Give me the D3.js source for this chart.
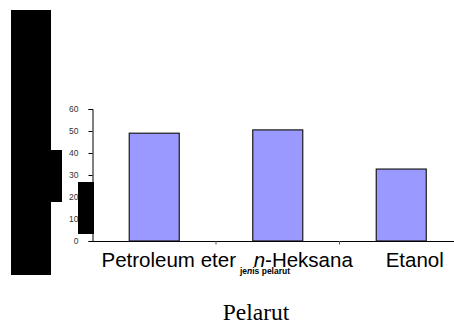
<!DOCTYPE html>
<html>
<head>
<meta charset="utf-8">
<script src="https://cdn.jsdelivr.net/npm/d3@7"></script>
<style>
  html, body { margin: 0; padding: 0; background: #fff; }
  svg { display: block; }
</style>
</head>
<body>
<script>
// Solvent yield chart
const categories = ["Petroleum eter", "n-Heksana", "Etanol"];
const values = [49, 50.5, 32.7];
const yTicks = [0, 10, 20, 30, 40, 50, 60];
const yTickLabels = ["0", "10", "20", "30", "40", "50", "60"];
const axisTitleX = "Pelarut";
const innerTitle = "jenis pelarut";
// horizontal nudges for category labels
const labelNudge = [15, 26, 14];

const W = 454, H = 325;
const svg = d3.select("body").append("svg").attr("width", W).attr("height", H);

const x = d3.scaleBand().domain(categories).range([92, 462.5]).padding(0);
const y = d3.scaleLinear().domain([0, 60]).range([241, 109]);
const barFrac = 0.405;

// bars
const bw = x.bandwidth() * barFrac;
svg.append("g").selectAll("rect").data(values).join("rect")
  .attr("x", (d, i) => x(categories[i]) + (x.bandwidth() - bw) / 2 + 0.5)
  .attr("y", d => y(d))
  .attr("width", bw)
  .attr("height", d => y(0) - y(d))
  .attr("fill", "#9999ff")
  .attr("stroke", "#1a1a1a")
  .attr("stroke-width", 1.2);

// y axis
const yAxis = d3.axisLeft(y).tickValues(yTicks).tickSize(4).tickPadding(10)
  .tickFormat((d, i) => yTickLabels[i]);
const gy = svg.append("g").attr("transform", "translate(92.5,0)").call(yAxis);
gy.select(".domain").attr("stroke", "#000");
gy.selectAll(".tick line").attr("stroke", "#000");
gy.selectAll(".tick text").attr("fill", "#333")
  .style("font-family", "Liberation Sans, Arial, sans-serif").style("font-size", "8.5px");

// x axis: baseline with tick marks between categories
svg.append("line").attr("x1", 92).attr("x2", W).attr("y1", y(0) + 0.5).attr("y2", y(0) + 0.5)
  .attr("stroke", "#000");
svg.append("g").selectAll("line").data(categories.slice(1)).join("line")
  .attr("x1", d => x(d) + 0.5).attr("x2", d => x(d) + 0.5)
  .attr("y1", y(0)).attr("y2", y(0) + 3.5)
  .attr("stroke", "#555");

// category labels
svg.append("g").selectAll("text").data(categories).join("text")
  .attr("x", (d, i) => x(d) + x.bandwidth() / 2 + labelNudge[i])
  .attr("y", 267)
  .attr("text-anchor", "middle")
  .style("font-family", "Liberation Sans, Arial, sans-serif")
  .style("font-size", "20.5px")
  .attr("fill", "#000")
  .each(function (d) {
    const t = d3.select(this);
    if (d.startsWith("n-")) {
      t.append("tspan").style("font-style", "italic").text("n");
      t.append("tspan").text(d.slice(1));
    } else {
      t.text(d);
    }
  });

// inner axis title
const it = svg.append("text").attr("x", 265).attr("y", 274).attr("text-anchor", "middle")
  .style("font-family", "Liberation Sans, Arial, sans-serif")
  .style("font-size", "8.5px").style("font-weight", "bold").attr("fill", "#000");
it.append("tspan").text("je");
it.append("tspan").style("font-style", "italic").text("n");
it.append("tspan").text(innerTitle.slice(3));

// outer axis title
svg.append("text").attr("x", 256).attr("y", 320).attr("text-anchor", "middle")
  .style("font-family", "Liberation Serif, Times New Roman, serif")
  .style("font-size", "23.5px").attr("fill", "#000").text(axisTitleX);

// black cover blocks on the left
const blocks = [
  { x: 11, y: 10, w: 40, h: 265 },
  { x: 50, y: 150, w: 12, h: 52 },
  { x: 78, y: 182, w: 16, h: 52 }
];
svg.append("g").selectAll("rect").data(blocks).join("rect")
  .attr("x", d => d.x).attr("y", d => d.y).attr("width", d => d.w).attr("height", d => d.h)
  .attr("fill", "#000");
</script>
</body>
</html>
